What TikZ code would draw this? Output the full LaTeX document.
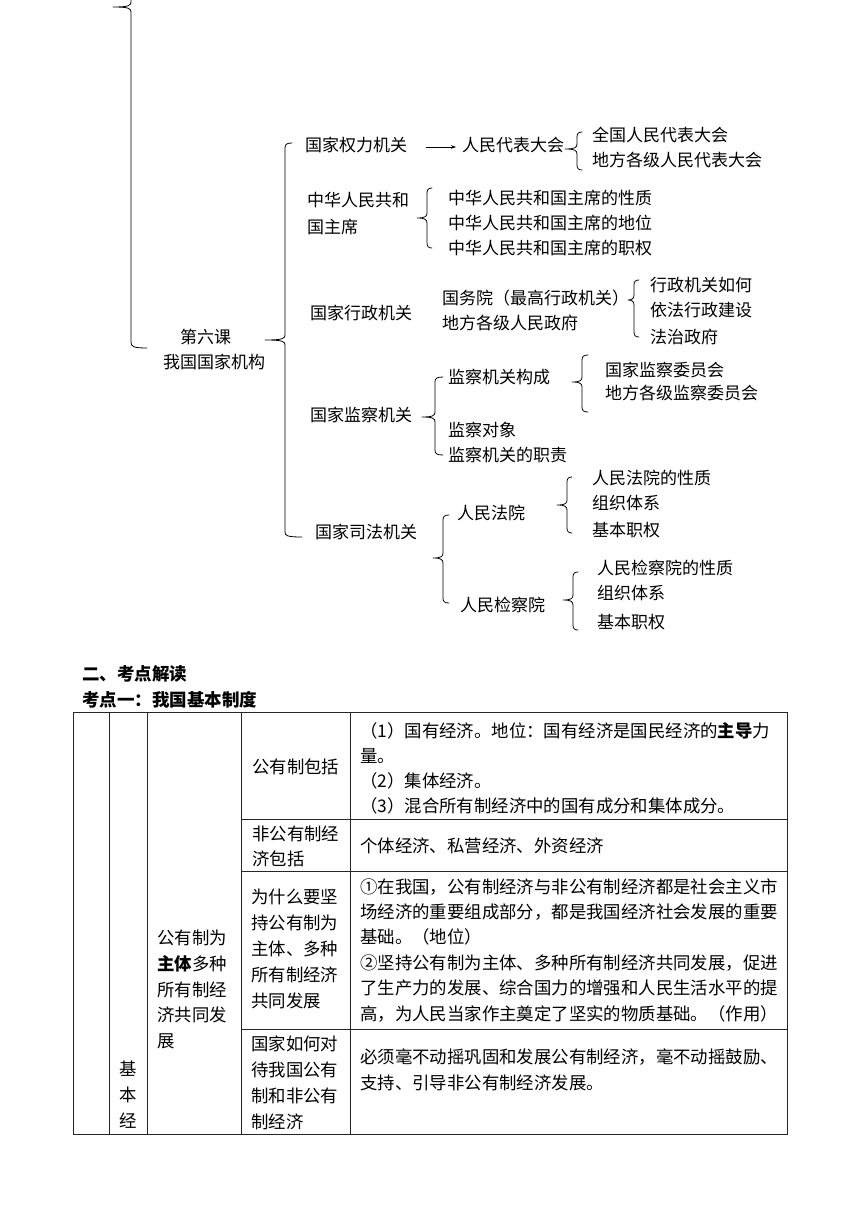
\documentclass[tikz,border=0pt]{standalone}
\usepackage{fontspec}
\setmainfont{Noto Sans CJK SC}
\usetikzlibrary{arrows.meta}
\tikzset{
  lbl/.style={anchor=west, inner sep=0pt, font=\fontsize{17}{20}\selectfont},
  hd/.style={anchor=west, inner sep=0pt, font=\fontsize{17.5}{20}\selectfont\bfseries},
  tx/.style={anchor=west, inner sep=0pt, font=\fontsize{17.4}{20}\selectfont},
  txc/.style={anchor=center, inner sep=0pt, font=\fontsize{17.4}{20}\selectfont},
  brline/.style={line width=0.8pt, line join=round, line cap=round, draw=black},
  tline/.style={line width=0.9pt, draw=black!85},
  arr/.style={line width=0.8pt, -{Stealth[length=5pt,width=3.5pt]}}
}
% #1 x, #2 top y, #3 tip y, #4 bottom y, #5 tip x, #6 top hook, #7 bottom hook
\newcommand\mybrace[7]{%
  \draw[brline] (#1+#6,#2) .. controls (#1+1.5,#2) and (#1,#2+1.5) .. (#1,#2+5)
    -- (#1,#3-5) .. controls (#1,#3-1.5) and (#1-2,#3) .. (#5,#3)
    .. controls (#1-2,#3) and (#1,#3+1.5) .. (#1,#3+5)
    -- (#1,#4-5) .. controls (#1,#4-1.5) and (#1+1.5,#4) .. (#1+#7,#4);}
\begin{document}
\begin{tikzpicture}[x=1pt,y=-1pt]
\useasboundingbox (0,0) rectangle (860,1216);
\fill[white] (0,0) rectangle (860,1216);

% outer bracket (upper part cut off)
\draw[brline] (131,-6) -- (131,2) .. controls (131,5.5) and (129,7) .. (113,7)
  .. controls (129,7) and (131,8.5) .. (131,12) -- (131,342)
  .. controls (131,346.5) and (133,348) .. (147,348);

\node[lbl] (k6a) at (180,337) {第六课};
\node[lbl] (k6b) at (163,362) {我国国家机构};

\mybrace{285}{143}{340}{537}{265}{7}{17}

% 国家权力机关
\node[lbl] (a1) at (305,145) {国家权力机关};
\node[lbl] (a1x) at (462,145) {人民代表大会};
\draw[arr, shorten <=19pt, shorten >=6pt] ([yshift=-2pt]a1.east) -- ([yshift=-2pt]a1x.west);
\mybrace{577}{132}{149}{170}{565}{5}{5}
\node[lbl] (a1x1) at (592,135) {全国人民代表大会};
\node[lbl] (a1x2) at (592,160) {地方各级人民代表大会};

% 国家主席
\node[lbl] (a2a) at (307,200) {中华人民共和};
\node[lbl] (a2b) at (307,227) {国主席};
\mybrace{427}{188}{218}{248}{417}{5}{5}
\node[lbl] (a2x1) at (448,198) {中华人民共和国主席的性质};
\node[lbl] (a2x2) at (448,223) {中华人民共和国主席的地位};
\node[lbl] (a2x3) at (448,248) {中华人民共和国主席的职权};

% 国家行政机关
\node[lbl] (a3) at (310,313) {国家行政机关};
\node[lbl] (a3a) at (442,298) {国务院（最高行政机关）};
\node[lbl] (a3b) at (442,323) {地方各级人民政府};
\mybrace{634}{280}{300}{337}{628}{5}{5}
\node[lbl] (a3x1) at (650,285) {行政机关如何};
\node[lbl] (a3x2) at (650,310) {依法行政建设};
\node[lbl] (a3x3) at (650,337) {法治政府};

% 国家监察机关
\node[lbl] (a4) at (310,415) {国家监察机关};
\mybrace{435}{377}{417}{455}{422}{8}{8}
\node[lbl] (a4a) at (448,377) {监察机关构成};
\mybrace{582}{355}{382}{412}{572}{6}{6}
\node[lbl] (a4a1) at (605,370) {国家监察委员会};
\node[lbl] (a4a2) at (605,393) {地方各级监察委员会};
\node[lbl] (a4b) at (448,430) {监察对象};
\node[lbl] (a4c) at (448,455) {监察机关的职责};

% 国家司法机关
\node[lbl] (a5) at (315,532) {国家司法机关};
\mybrace{443}{515}{558}{603}{433}{6}{6}
\node[lbl] (a5a) at (457,513) {人民法院};
\mybrace{567}{477}{505}{533}{557}{5}{5}
\node[lbl] (a5a1) at (592,478) {人民法院的性质};
\node[lbl] (a5a2) at (592,503) {组织体系};
\node[lbl] (a5a3) at (592,530) {基本职权};
\node[lbl] (a5b) at (460,605) {人民检察院};
\mybrace{573}{572}{600}{630}{563}{5}{5}
\node[lbl] (a5b1) at (597,568) {人民检察院的性质};
\node[lbl] (a5b2) at (597,593) {组织体系};
\node[lbl] (a5b3) at (597,622) {基本职权};

% headings
\node[hd] (h1) at (82,674) {二、考点解读};
\node[hd] (h2) at (82,700) {考点一：我国基本制度};

% table grid
\draw[tline] (73,712) rectangle (787,1134);
\draw[tline] (109,712) -- (109,1134);
\draw[tline] (147,712) -- (147,1134);
\draw[tline] (241,712) -- (241,1134);
\draw[tline] (350,712) -- (350,1134);
\draw[tline] (241,819) -- (787,819);
\draw[tline] (241,871) -- (787,871);
\draw[tline] (241,1029) -- (787,1029);

% column 2
\node[txc] (c2a) at (128,1069) {基};
\node[txc] (c2b) at (128,1095) {本};
\node[txc] (c2c) at (128,1121) {经};

% column 3
\node[tx] (c3a) at (157,938) {公有制为};
\node[tx] (c3b) at (157,964) {\textbf{主体}多种};
\node[tx] (c3c) at (157,990) {所有制经};
\node[tx] (c3d) at (157,1015) {济共同发};
\node[tx] (c3e) at (157,1041) {展};

% row 1
\node[tx] (r1c4) at (252,767) {公有制包括};
\node[tx] (r1a) at (360,731) {（1）国有经济。地位：国有经济是国民经济的\textbf{主导}力};
\node[tx] (r1b) at (360,756) {量。};
\node[tx] (r1c) at (360,781) {（2）集体经济。};
\node[tx] (r1d) at (360,806) {（3）混合所有制经济中的国有成分和集体成分。};

% row 2
\node[tx] (r2c4a) at (252,834) {非公有制经};
\node[tx] (r2c4b) at (252,859) {济包括};
\node[tx] (r2a) at (360,846) {个体经济、私营经济、外资经济};

% row 3
\node[tx] (r3c4a) at (251,897) {为什么要坚};
\node[tx] (r3c4b) at (251,923) {持公有制为};
\node[tx] (r3c4c) at (251,949) {主体、多种};
\node[tx] (r3c4d) at (251,975) {所有制经济};
\node[tx] (r3c4e) at (251,1001) {共同发展};
\node[tx] (r3a) at (360,887) {①在我国，公有制经济与非公有制经济都是社会主义市};
\node[tx] (r3b) at (360,912) {场经济的重要组成部分，都是我国经济社会发展的重要};
\node[tx] (r3c) at (360,937) {基础。（地位）};
\node[tx] (r3d) at (360,963) {②坚持公有制为主体、多种所有制经济共同发展，促进};
\node[tx] (r3e) at (360,988) {了生产力的发展、综合国力的增强和人民生活水平的提};
\node[tx] (r3f) at (360,1014) {高，为人民当家作主奠定了坚实的物质基础。（作用）};

% row 4
\node[tx] (r4c4a) at (251,1044) {国家如何对};
\node[tx] (r4c4b) at (251,1070) {待我国公有};
\node[tx] (r4c4c) at (251,1096) {制和非公有};
\node[tx] (r4c4d) at (251,1122) {制经济};
\node[tx] (r4a) at (360,1057) {必须毫不动摇巩固和发展公有制经济，毫不动摇鼓励、};
\node[tx] (r4b) at (360,1083) {支持、引导非公有制经济发展。};
\end{tikzpicture}
\end{document}
